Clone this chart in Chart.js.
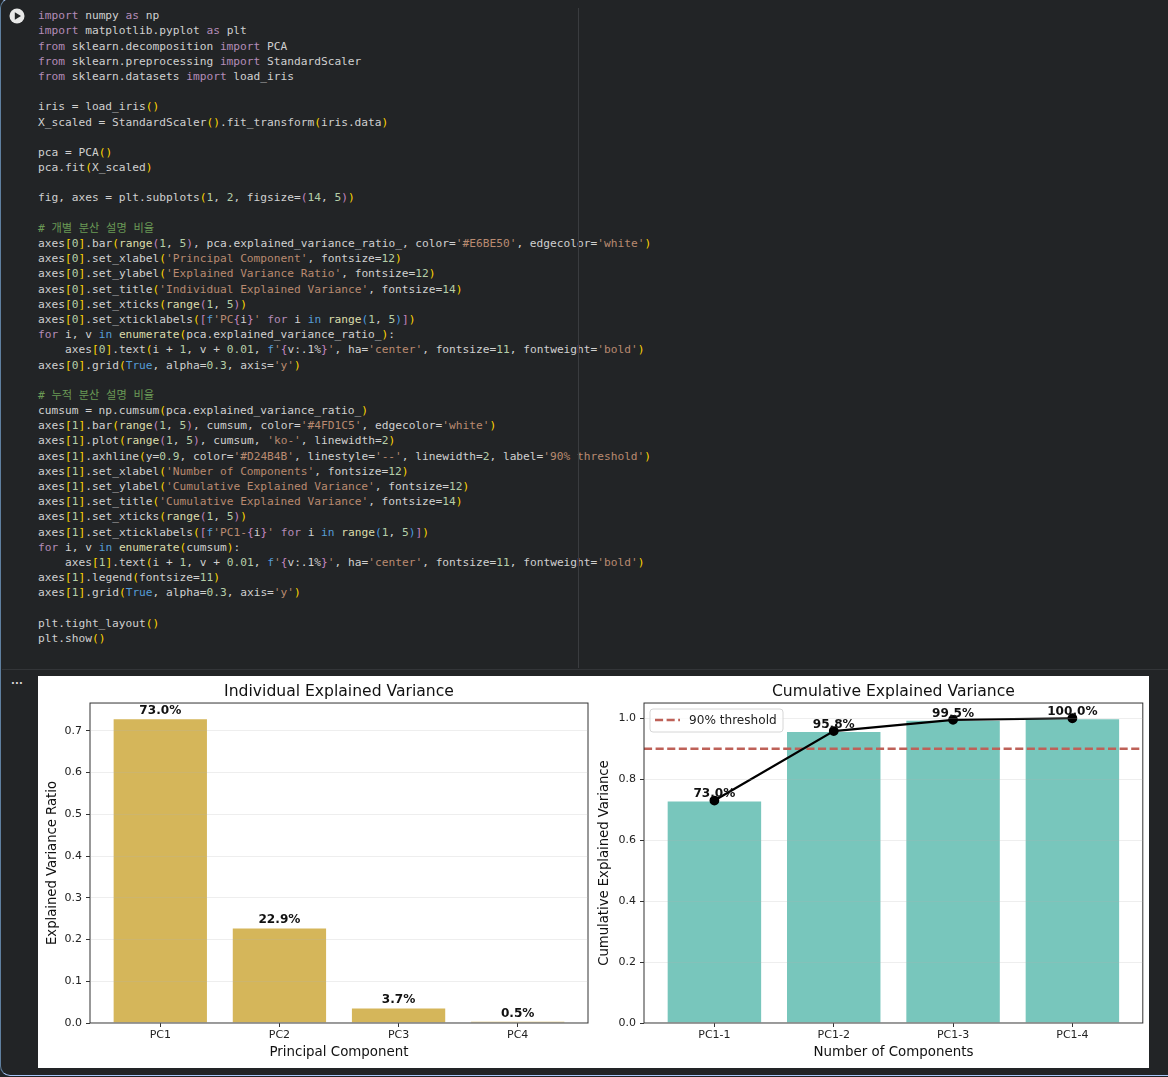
<!DOCTYPE html>
<html>
<head>
<meta charset="utf-8">
<title>PCA explained variance</title>
<script src="https://cdn.jsdelivr.net/npm/chart.js@4"></script>
<style>
    html, body { margin: 0; padding: 0; background: #222426; overflow: hidden; }
    body { position: relative; width: 1168px; height: 1077px; }
    #frame { position: absolute; left: 0; top: -2px; width: 1180px; height: 1078px; box-sizing: border-box;
             border: 1px solid #a8c7fa; border-left-color: #5f7f9f; border-radius: 10px; }
    #runBtn { position: absolute; left: 9px; top: 8px; }
    #code { position: absolute; left: 38px; top: 8.2px; margin: 0; color: #d0d0d0;
            font: 11.2px/15.195px "DejaVu Sans Mono", "Noto Sans CJK KR", monospace; }
    #ruler { position: absolute; left: 578px; top: 8px; width: 1px; height: 660px; background: #3a3c3f; }
    #divider { position: absolute; left: 2px; top: 669px; width: 1166px; height: 1px; background: #333538; }
    #dots { position: absolute; left: 11px; top: 675px; color: #d8d8d8; font: bold 10px "DejaVu Sans"; letter-spacing: 0.2px; }
    #output { position: absolute; left: 38px; top: 676px; width: 1111px; height: 392px; background: #fff; }
    #chartLeft { position: absolute; left: 38px; top: 677px; }
    #chartRight { position: absolute; left: 590px; top: 677px; }
    .kw { color: #b48cb8; } .blue { color: #569cd6; } .str { color: #b98a70; } .fn { color: #dcdcaa; }
    .num { color: #b5cea8; } .cm { color: #6a9955; } .b0 { color: #ffd700; } .b1 { color: #c586c0; } .b2 { color: #4a9fe0; }
</style>
</head>
<body>
<div id="frame"></div>
<svg id="runBtn" width="16" height="16" viewBox="0 0 16 16">
    <circle cx="8" cy="8" r="7.5" fill="#e8e8e8"/>
    <path d="M5.8 4.2 L12 8 L5.8 11.8 Z" fill="#222426"/>
</svg>
<pre id="code"></pre>
<div id="ruler"></div>
<div id="divider"></div>
<div id="dots">...</div>
<div id="output"></div>
<canvas id="chartLeft" width="552" height="392"></canvas>
<canvas id="chartRight" width="559" height="392"></canvas>

<script>
// Notebook cell source
const codeLines = [
    "import numpy as np",
    "import matplotlib.pyplot as plt",
    "from sklearn.decomposition import PCA",
    "from sklearn.preprocessing import StandardScaler",
    "from sklearn.datasets import load_iris",
    "",
    "iris = load_iris()",
    "X_scaled = StandardScaler().fit_transform(iris.data)",
    "",
    "pca = PCA()",
    "pca.fit(X_scaled)",
    "",
    "fig, axes = plt.subplots(1, 2, figsize=(14, 5))",
    "",
    "# 개별 분산 설명 비율",
    "axes[0].bar(range(1, 5), pca.explained_variance_ratio_, color='#E6BE50', edgecolor='white')",
    "axes[0].set_xlabel('Principal Component', fontsize=12)",
    "axes[0].set_ylabel('Explained Variance Ratio', fontsize=12)",
    "axes[0].set_title('Individual Explained Variance', fontsize=14)",
    "axes[0].set_xticks(range(1, 5))",
    "axes[0].set_xticklabels([f'PC{i}' for i in range(1, 5)])",
    "for i, v in enumerate(pca.explained_variance_ratio_):",
    "    axes[0].text(i + 1, v + 0.01, f'{v:.1%}', ha='center', fontsize=11, fontweight='bold')",
    "axes[0].grid(True, alpha=0.3, axis='y')",
    "",
    "# 누적 분산 설명 비율",
    "cumsum = np.cumsum(pca.explained_variance_ratio_)",
    "axes[1].bar(range(1, 5), cumsum, color='#4FD1C5', edgecolor='white')",
    "axes[1].plot(range(1, 5), cumsum, 'ko-', linewidth=2)",
    "axes[1].axhline(y=0.9, color='#D24B4B', linestyle='--', linewidth=2, label='90% threshold')",
    "axes[1].set_xlabel('Number of Components', fontsize=12)",
    "axes[1].set_ylabel('Cumulative Explained Variance', fontsize=12)",
    "axes[1].set_title('Cumulative Explained Variance', fontsize=14)",
    "axes[1].set_xticks(range(1, 5))",
    "axes[1].set_xticklabels([f'PC1-{i}' for i in range(1, 5)])",
    "for i, v in enumerate(cumsum):",
    "    axes[1].text(i + 1, v + 0.01, f'{v:.1%}', ha='center', fontsize=11, fontweight='bold')",
    "axes[1].legend(fontsize=11)",
    "axes[1].grid(True, alpha=0.3, axis='y')",
    "",
    "plt.tight_layout()",
    "plt.show()"
];

// Chart data
const componentPositions = [1, 2, 3, 4];
const individualLabels = ['PC1', 'PC2', 'PC3', 'PC4'];
const individualValues = [0.730, 0.229, 0.037, 0.005];
const individualTicks = [0, 0.1, 0.2, 0.3, 0.4, 0.5, 0.6, 0.7];
const cumulativeLabels = ['PC1-1', 'PC1-2', 'PC1-3', 'PC1-4'];
const cumulativeValues = [0.730, 0.958, 0.995, 1.0];
const cumulativeTicks = [0, 0.2, 0.4, 0.6, 0.8, 1.0];
const thresholdValue = 0.9;
const xLimits = [0.41, 4.59];

const escapeHtml = s => s.replace(/&/g, '&amp;').replace(/</g, '&lt;');

// Very small python colouring, enough for this cell
function highlightLine(line) {
    const tokens = /(#(?!E6|4F|D2).*$)|(f?'[^']*')|\b(import|from|as|for)\b|\b(in|True)\b|\b(range|enumerate)\b|(\b\d+\.?\d*\b)|([()\[\]{}])/g;
    let depth = 0, last = 0, html = '', m;
    while ((m = tokens.exec(line))) {
        html += escapeHtml(line.slice(last, m.index));
        last = tokens.lastIndex;
        if (m[1]) html += `<span class="cm">${m[1]}</span>`;
        else if (m[2]) html += stringToken(m[2]);
        else if (m[3]) html += `<span class="kw">${m[3]}</span>`;
        else if (m[4]) html += `<span class="blue">${m[4]}</span>`;
        else if (m[5]) html += `<span class="fn">${m[5]}</span>`;
        else if (m[6]) html += `<span class="num">${m[6]}</span>`;
        else {
            const open = '([{'.includes(m[7]);
            if (!open) depth--;
            html += `<span class="b${depth % 3}">${m[7]}</span>`;
            if (open) depth++;
        }
    }
    return html + escapeHtml(line.slice(last));
}

function stringToken(text) {
    if (text[0] !== 'f') return `<span class="str">${escapeHtml(text)}</span>`;
    const body = text.slice(1).replace(/\{([^}]*)\}/g, '</span><span class="b1">{</span>$1<span class="b1">}</span><span class="str">');
    return `<span class="blue">f</span><span class="str">${body}</span>`;
}

document.getElementById('code').innerHTML = codeLines.map(highlightLine).join('\n');

// Full box around the plot area, matplotlib style
const framePlugin = {
    id: 'frameBox',
    afterDatasetsDraw(chart) {
        const { ctx, chartArea: a } = chart;
        ctx.save();
        ctx.strokeStyle = '#333';
        ctx.lineWidth = 1;
        ctx.strokeRect(a.left, a.top, a.right - a.left, a.bottom - a.top);
        ctx.restore();
    }
};

// Percent labels just over each bar
const valueLabelPlugin = {
    id: 'valueLabels',
    afterDraw(chart) {
        const { ctx, scales } = chart;
        const bars = chart.data.datasets.find(d => d.type === 'bar').data;
        ctx.save();
        ctx.font = 'bold 12.1px "DejaVu Sans"';
        ctx.fillStyle = '#111';
        ctx.textAlign = 'center';
        ctx.textBaseline = 'alphabetic';
        bars.forEach(p => {
            ctx.fillText(`${(p.y * 100).toFixed(1)}%`, scales.x.getPixelForValue(p.x), scales.y.getPixelForValue(p.y + 0.01));
        });
        ctx.restore();
    }
};

// Legend sits inside the plot, which the built-in legend can't do
const insideLegendPlugin = {
    id: 'insideLegend',
    afterDraw(chart) {
        const { ctx, chartArea: a } = chart;
        const item = chart.data.datasets.find(d => d.label);
        const x = a.left + 6, y = a.top + 6;
        ctx.save();
        ctx.beginPath();
        ctx.roundRect(x, y, 133, 23, 3);
        ctx.fillStyle = 'rgba(255,255,255,0.8)';
        ctx.fill();
        ctx.strokeStyle = '#d6d6d6';
        ctx.lineWidth = 1;
        ctx.stroke();
        ctx.beginPath();
        ctx.setLineDash(item.borderDash);
        ctx.strokeStyle = item.borderColor;
        ctx.lineWidth = item.borderWidth;
        ctx.moveTo(x + 5, y + 11);
        ctx.lineTo(x + 30, y + 11);
        ctx.stroke();
        ctx.font = '12.1px "DejaVu Sans"';
        ctx.fillStyle = '#222';
        ctx.textBaseline = 'middle';
        ctx.fillText(item.label, x + 39, y + 11.5);
        ctx.restore();
    }
};

function buildOptions(cfg) {
    return {
        responsive: false,
        animation: false,
        layout: { padding: { top: 0, bottom: 0, left: 0, right: cfg.rightPad } },
        plugins: {
            legend: { display: false },
            tooltip: { enabled: false },
            title: {
                display: true,
                text: cfg.title,
                fullSize: false,
                color: '#111',
                font: { family: 'DejaVu Sans', size: 15.6, weight: 'normal' },
                padding: { top: 5.7, bottom: 1.6 }
            }
        },
        scales: {
            x: {
                type: 'linear',
                min: xLimits[0],
                max: xLimits[1],
                offset: false,
                afterBuildTicks: s => { s.ticks = componentPositions.map(value => ({ value })); },
                afterFit: s => { s.height = 46; },
                grid: { display: true, offset: false, drawOnChartArea: false, drawTicks: true, tickLength: 4, tickColor: '#333' },
                border: { display: false },
                ticks: {
                    color: '#222',
                    font: { family: 'DejaVu Sans', size: 11 },
                    padding: 2,
                    maxRotation: 0,
                    callback: v => cfg.labels[componentPositions.indexOf(v)]
                },
                title: {
                    display: true,
                    text: cfg.xTitle,
                    color: '#111',
                    font: { family: 'DejaVu Sans', size: 13.4 },
                    padding: { top: 0, bottom: 8 }
                }
            },
            y: {
                min: 0,
                max: cfg.yMax,
                afterBuildTicks: s => { s.ticks = cfg.yTicks.map(value => ({ value })); },
                afterFit: s => { s.width = cfg.axisWidth; },
                grid: { z: 1, color: 'rgba(176,176,176,0.22)', tickColor: '#333', tickLength: 4 },
                border: { display: false },
                ticks: {
                    color: '#222',
                    font: { family: 'DejaVu Sans', size: 11 },
                    padding: 4,
                    callback: v => v.toFixed(1)
                },
                title: {
                    display: true,
                    text: cfg.yTitle,
                    color: '#111',
                    font: { family: 'DejaVu Sans', size: 13.2 },
                    padding: { top: cfg.yTitlePad, bottom: 0 }
                }
            }
        }
    };
}

function barDataset(values, color) {
    return {
        type: 'bar',
        data: values.map((y, i) => ({ x: componentPositions[i], y })),
        backgroundColor: color,
        borderColor: '#ffffff',
        borderWidth: 1,
        categoryPercentage: 0.8,
        barPercentage: 1,
        order: 3
    };
}

function initCharts() {
    new Chart(document.getElementById('chartLeft'), {
        data: { datasets: [barDataset(individualValues, '#D5B65A')] },
        options: buildOptions({
            title: 'Individual Explained Variance',
            xTitle: 'Principal Component',
            yTitle: 'Explained Variance Ratio',
            labels: individualLabels,
            yTicks: individualTicks,
            yMax: 0.7665,
            axisWidth: 52,
            yTitlePad: 7,
            rightPad: 2
        }),
        plugins: [framePlugin, valueLabelPlugin]
    });

    new Chart(document.getElementById('chartRight'), {
        data: {
            datasets: [
                barDataset(cumulativeValues, '#78C6BC'),
                {
                    type: 'line',
                    data: cumulativeValues.map((y, i) => ({ x: componentPositions[i], y })),
                    borderColor: '#000',
                    backgroundColor: '#000',
                    borderWidth: 2.2,
                    pointRadius: 3.8,
                    tension: 0,
                    order: 1
                },
                {
                    type: 'line',
                    label: '90% threshold',
                    data: xLimits.map(x => ({ x, y: thresholdValue })),
                    borderColor: '#BE6158',
                    borderWidth: 2.4,
                    borderDash: [8.1, 3.5],
                    pointRadius: 0,
                    order: 2
                }
            ]
        },
        options: buildOptions({
            title: 'Cumulative Explained Variance',
            xTitle: 'Number of Components',
            yTitle: 'Cumulative Explained Variance',
            labels: cumulativeLabels,
            yTicks: cumulativeTicks,
            yMax: 1.05,
            axisWidth: 54,
            yTitlePad: 7,
            rightPad: 6
        }),
        plugins: [framePlugin, valueLabelPlugin, insideLegendPlugin]
    });
}

document.fonts.ready.then(initCharts);
</script>
</body>
</html>
